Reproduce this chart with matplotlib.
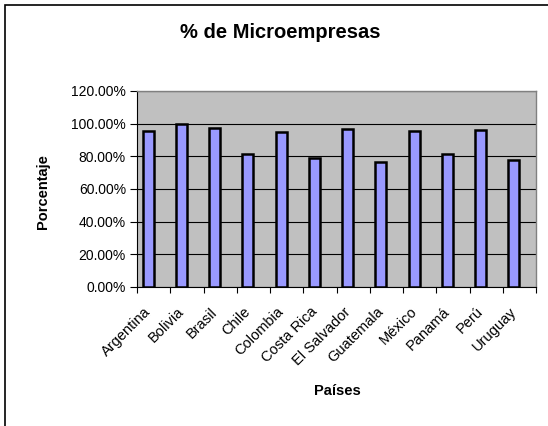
import matplotlib
matplotlib.use("Agg")
import matplotlib.pyplot as plt
import matplotlib.transforms as mtransforms
from matplotlib.patches import Rectangle
from matplotlib.ticker import FuncFormatter, MultipleLocator
import numpy as np

plt.rcParams['font.family'] = ['Liberation Sans', 'DejaVu Sans']

paises = ["Argentina", "Bolivia", "Brasil", "Chile", "Colombia", "Costa Rica",
          "El Salvador", "Guatemala", "México", "Panamá", "Perú", "Uruguay"]
porcentaje = [95.5, 99.6, 97.2, 81.2, 94.7, 78.8, 96.9, 76.5, 95.5, 81.4, 96.3, 78.0]

W, H = 548, 426
fig = plt.figure(figsize=(W / 100, H / 100), dpi=100)
fig.patch.set_facecolor("white")

# outer chart frame
fig.patches.append(Rectangle((5 / W, -0.1), 1.2, 1 - 5 / H + 0.1, transform=fig.transFigure,
                             fill=False, edgecolor="black", linewidth=1.2))

ax = fig.add_axes([137 / W, 1 - 287 / H, (536 - 137) / W, (287 - 91) / H])
ax.set_facecolor("#C0C0C0")

n = len(paises)
x = np.arange(n)
ax.bar(x + 0.5 - 1 / 6, porcentaje, width=1 / 3, color="#9999FF",
       edgecolor="black", linewidth=1.8, zorder=3)

ax.set_xlim(0, n)
ax.set_ylim(0, 120)
ax.yaxis.set_major_locator(MultipleLocator(20))
ax.yaxis.set_major_formatter(FuncFormatter(lambda v, p: f"{v:.2f}%"))
ax.grid(axis="y", color="black", linewidth=0.8, zorder=1)
ax.set_axisbelow(True)

ax.set_xticks(np.arange(n + 1))
ax.set_xticklabels([])
ax.set_xticks(x + 0.5, minor=True)
ax.set_xticklabels(paises, minor=True, rotation=45, ha="right", va="top",
                   rotation_mode="anchor", fontsize=10.5)
ax.tick_params(axis="x", which="minor", length=0, pad=7)
ax.tick_params(axis="x", which="major", length=4, width=0.8, direction="out")
ax.tick_params(axis="y", length=5, width=0.8, direction="out", labelsize=10, pad=3)

shift = mtransforms.ScaledTranslation(-0.1, -0.08, fig.dpi_scale_trans)
for lbl in ax.get_xticklabels(minor=True):
    lbl.set_transform(lbl.get_transform() + shift)

for s in ["top", "right"]:
    ax.spines[s].set_color("#808080")
    ax.spines[s].set_linewidth(1.0)
for s in ["left", "bottom"]:
    ax.spines[s].set_color("black")
    ax.spines[s].set_linewidth(0.8)

fig.text(280 / W, 1 - 33 / H, "% de Microempresas", ha="center", va="center",
         fontsize=14.5, fontweight="bold")
fig.text(43 / W, 1 - 192 / H, "Porcentaje", ha="center", va="center",
         rotation=90, fontsize=10.5, fontweight="bold")
fig.text(337 / W, 1 - 391 / H, "Países", ha="center", va="center",
         fontsize=10.5, fontweight="bold")

fig.savefig("out.png", dpi=100)
